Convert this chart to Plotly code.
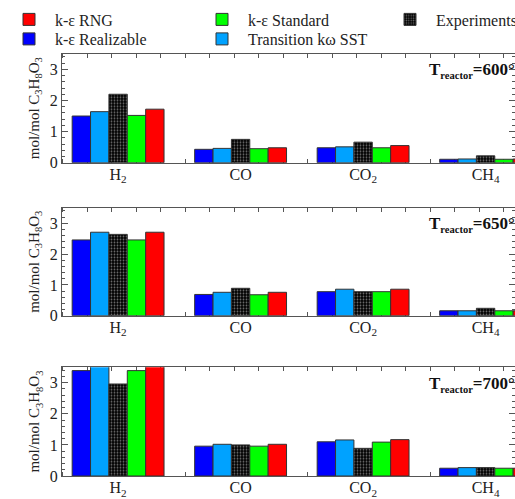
import plotly.graph_objects as go

categories = ["H<sub>2</sub>", "CO", "CO<sub>2</sub>", "CH<sub>4</sub>"]
cat_pos = [0, 1, 2, 3]
temps = ["600", "650", "700"]

# series values per temperature panel (order: H2, CO, CO2, CH4)
realizable = {"600": [1.50, 0.43, 0.48, 0.11], "650": [2.46, 0.69, 0.78, 0.16], "700": [3.39, 0.96, 1.10, 0.25]}
sst = {"600": [1.64, 0.46, 0.51, 0.12], "650": [2.71, 0.76, 0.86, 0.16], "700": [3.55, 1.02, 1.16, 0.27]}
experiments = {"600": [2.20, 0.75, 0.66, 0.22], "650": [2.64, 0.89, 0.78, 0.24], "700": [2.96, 1.00, 0.89, 0.27]}
standard = {"600": [1.52, 0.45, 0.48, 0.11], "650": [2.46, 0.68, 0.78, 0.16], "700": [3.39, 0.96, 1.09, 0.25]}
rng = {"600": [1.72, 0.48, 0.55, 0.12], "650": [2.71, 0.76, 0.86, 0.16], "700": [3.55, 1.02, 1.17, 0.25]}

# (name, data, colour, legend id)
series = [
    ("k-ε Realizable", realizable, "#0000ff", "legend4"),
    ("Transition kω SST", sst, "#00a2ff", "legend5"),
    ("Experiments", experiments, "#000000", "legend3"),
    ("k-ε Standard", standard, "#00ff00", "legend2"),
    ("k-ε RNG", rng, "#ff0000", "legend"),
]

FONT = "Liberation Serif"
H = 499
W = 515
ML = 62
panels_px = [(53.8, 162.7), (207.9, 315.7), (367.2, 476.0)]

fig = go.Figure()
for pi, t in enumerate(temps):
    xa = "x" if pi == 0 else f"x{pi+1}"
    ya = "y" if pi == 0 else f"y{pi+1}"
    for name, data, color, leg in series:
        marker = dict(color=color, line=dict(color="#333333", width=1))
        if name == "Experiments":
            marker["pattern"] = dict(shape=".", bgcolor="#000000", fgcolor="#6e6e6e",
                                     size=3, solidity=0.3, fillmode="replace")
        fig.add_trace(go.Bar(
            x=cat_pos, y=data[t], name=name, marker=marker,
            xaxis=xa, yaxis=ya, showlegend=(pi == 0), legend=leg,
            legendgroup=name,
        ))

axis_common = dict(showline=True, linecolor="#555555", linewidth=1, mirror="ticks",
                   tickfont=dict(family=FONT, size=16, color="#222222"),
                   layer="below traces", zeroline=False, showgrid=False, automargin=False)

layout = dict(
    width=W, height=H, margin=dict(l=ML, r=0, t=0, b=0, autoexpand=False),
    paper_bgcolor="white", plot_bgcolor="white",
    barmode="group", bargap=0.25, bargroupgap=0,
    font=dict(family=FONT, color="#222222"),
)
for pi, t in enumerate(temps):
    top, bot = panels_px[pi]
    xk = "xaxis" if pi == 0 else f"xaxis{pi+1}"
    yk = "yaxis" if pi == 0 else f"yaxis{pi+1}"
    ya = "y" if pi == 0 else f"y{pi+1}"
    xa = "x" if pi == 0 else f"x{pi+1}"
    layout[xk] = dict(axis_common, domain=[0, 1], anchor=ya, range=[-0.458, 3.24],
                      tickmode="array", tickvals=cat_pos, ticktext=categories,
                      ticks="", ticklabelstandoff=-3,
                      minor=dict(tickmode="linear", tick0=-0.25, dtick=0.2, ticks="inside",
                                 ticklen=4, tickcolor="#555555"))
    layout[yk] = dict(axis_common, domain=[1 - bot / H, 1 - top / H], anchor=xa,
                      range=[0, 3.5], tickmode="array", tickvals=[0, 1, 2, 3],
                      ticks="inside", ticklen=6, tickcolor="#555555",
                      minor=dict(tickmode="linear", tick0=0, dtick=0.2, ticks="inside",
                                 ticklen=3, tickcolor="#555555"))

fig.update_layout(**layout)

# one legend per entry so each sits where the reference shows it
legend_common = dict(xref="container", yref="container", yanchor="middle", xanchor="left",
                     orientation="v", itemwidth=42,
                     font=dict(family=FONT, size=16, color="#222222"),
                     bgcolor="rgba(0,0,0,0)")
leg_pos = {"legend": (3, 19.5), "legend4": (3, 39), "legend2": (196, 19.5),
           "legend5": (196, 39), "legend3": (384, 19.5)}
fig.update_layout(**{k: dict(legend_common, x=px / W, y=1 - py / H)
                     for k, (px, py) in leg_pos.items()})

for pi, t in enumerate(temps):
    top, bot = panels_px[pi]
    fig.add_annotation(
        text=f"<b>T<sub><span style='font-size:10.5px'>reactor</span></sub>={t}°C</b>",
        xref="paper", yref="paper", x=(427 - ML) / (W - ML), y=1 - (top + 17) / H,
        xanchor="left", yanchor="middle", showarrow=False,
        font=dict(family=FONT, size=17, color="#111111"),
    )
    fig.add_annotation(
        text="mol/mol C<sub>3</sub>H<sub>8</sub>O<sub>3</sub>",
        xref="paper", yref="paper", x=(35 - ML) / (W - ML), y=1 - (top + bot) / 2 / H,
        xanchor="center", yanchor="middle", textangle=-90, showarrow=False,
        font=dict(family=FONT, size=15, color="#222222"),
    )

post = ("document.documentElement.style.overflow='hidden';"
        "document.body.style.margin='0';document.body.style.overflow='hidden';"
        "var g=document.getElementById('{plot_id}');"
        "g.style.position='fixed';g.style.left='0px';g.style.top='0px';")
fig.write_html("out.html", config={"displayModeBar": False}, post_script=post)
